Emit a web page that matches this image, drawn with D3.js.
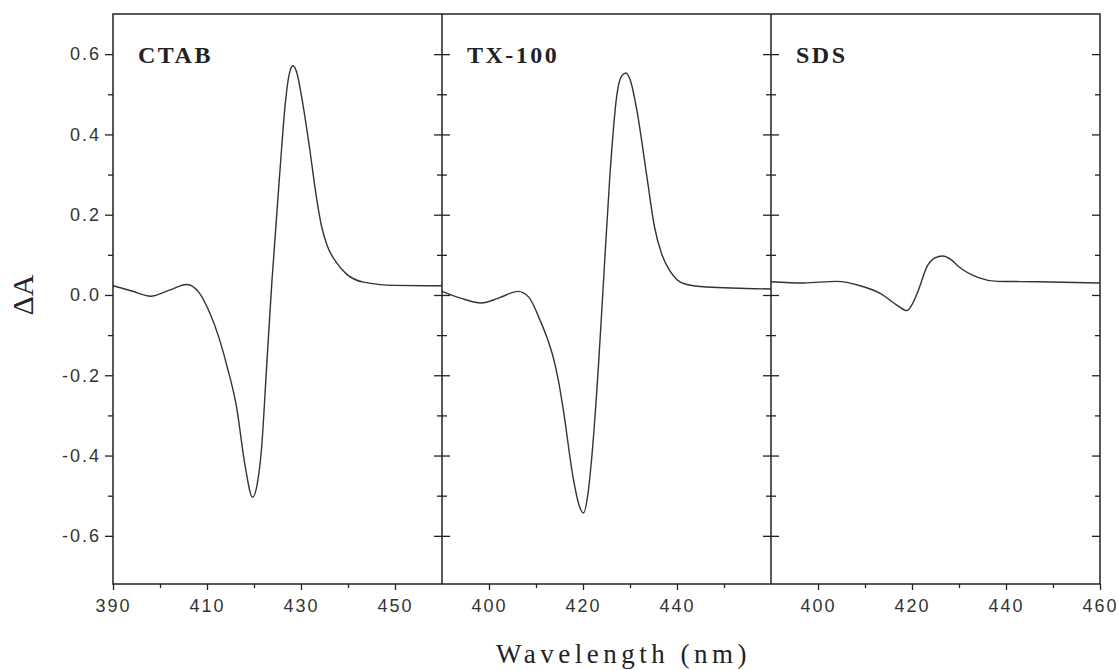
<!DOCTYPE html>
<html lang="en">
<head>
    <meta charset="UTF-8">
    <title>Difference spectra in micelles</title>
    <script src="https://d3js.org/d3.v7.min.js"></script>
    <style>
        body { margin: 0; background: #fff; }
        .tick text { font-family: "Liberation Sans", Arial, sans-serif; font-size: 18px; fill: #333; letter-spacing: 2px; }
        .tick line { stroke: #222; stroke-width: 1.3; }
        .frame { stroke: #222; stroke-width: 1.5; fill: none; }
        .spectrum { stroke: #333; stroke-width: 1.4; fill: none; }
    </style>
</head>
<body>
<div id="chart"></div>
<script>
    // values (wavelength nm, delta absorbance)
    const ctabNm = [390, 394, 398, 402, 405.7, 408.5, 410.6, 412.5, 414.2, 416.3, 418.1, 419.7, 420.7, 421.6, 422.7, 423.8, 425.5, 426.6, 427.5, 428.3, 429.2, 430.1, 431.9, 433.2, 434.3, 435.5, 437.6, 439.7, 443.3, 450, 460];
    const ctabDA = [0.023, 0.010, -0.003, 0.012, 0.026, 0.003, -0.045, -0.105, -0.175, -0.28, -0.425, -0.504, -0.47, -0.383, -0.176, 0.032, 0.306, 0.47, 0.55, 0.571, 0.55, 0.496, 0.36, 0.25, 0.175, 0.125, 0.080, 0.052, 0.032, 0.024, 0.023];

    const txNm = [390, 394, 398.4, 402, 406.2, 408.5, 410.9, 412.3, 413.7, 414.8, 415.8, 417.9, 419.2, 420.1, 421, 421.8, 423.3, 424.3, 425.7, 427.2, 428.2, 429.1, 430.2, 431.4, 433.6, 435.2, 436.8, 438.5, 440, 442.1, 446.3, 460];
    const txDA = [0.009, -0.008, -0.020, -0.008, 0.009, -0.006, -0.064, -0.105, -0.157, -0.215, -0.285, -0.455, -0.525, -0.543, -0.50, -0.413, -0.174, 0.021, 0.294, 0.498, 0.545, 0.553, 0.53, 0.464, 0.294, 0.17, 0.10, 0.06, 0.038, 0.026, 0.020, 0.015];

    const sdsNm = [390, 397, 404, 409, 413.4, 417, 418.9, 420.1, 421.2, 423.3, 424.8, 426.5, 428.3, 429.7, 434, 438.2, 446.7, 460];
    const sdsDA = [0.033, 0.030, 0.034, 0.023, 0.003, -0.027, -0.039, -0.022, 0.007, 0.073, 0.092, 0.097, 0.088, 0.073, 0.044, 0.034, 0.033, 0.030];

    const panelNames = ["CTAB", "TX-100", "SDS"];
    const panelNm = [ctabNm, txNm, sdsNm];
    const panelDA = [ctabDA, txDA, sdsDA];
    const xMajor = [[390, 410, 430, 450], [400, 420, 440], [400, 420, 440, 460]];
    const xMinor = [[400, 420, 440], [410, 430, 450], [410, 430, 450]];
    const yMajor = [-0.6, -0.4, -0.2, 0.0, 0.2, 0.4, 0.6];
    const yMinor = [-0.5, -0.3, -0.1, 0.1, 0.3, 0.5];

    const width = 1118, height = 670;
    const plotLeft = 113, plotRight = 1100, plotTop = 14, plotBottom = 584;
    const panelW = (plotRight - plotLeft) / 3;

    const svg = d3.select("#chart").append("svg")
        .attr("width", width)
        .attr("height", height);

    const y = d3.scaleLinear().domain([-0.72, 0.7]).range([plotBottom, plotTop]);

    function yTicks(g, axisFn, values, size, labels) {
        g.call(axisFn(y).tickValues(values).tickSize(size).tickPadding(4)
            .tickFormat(labels ? (d => d.toFixed(1)) : ""))
         .call(s => s.select(".domain").remove());
    }

    panelNames.forEach((name, i) => {
        const x0 = plotLeft + i * panelW;
        const x = d3.scaleLinear().domain([390, 460]).range([x0, x0 + panelW]);

        // bottom axis, major and minor ticks
        svg.append("g").attr("transform", `translate(0,${plotBottom})`)
            .call(d3.axisBottom(x).tickValues(xMajor[i]).tickSize(6).tickPadding(9).tickFormat(d3.format("d")))
            .call(g => g.select(".domain").remove());
        svg.append("g").attr("transform", `translate(0,${plotBottom})`)
            .call(d3.axisBottom(x).tickValues(xMinor[i]).tickSize(4).tickFormat(""))
            .call(g => g.select(".domain").remove());

        const line = d3.line()
            .x((d, k) => x(panelNm[i][k]))
            .y(d => y(d))
            .curve(d3.curveMonotoneX);

        svg.append("path")
            .attr("class", "spectrum")
            .attr("d", line(panelDA[i]));

        svg.append("text")
            .attr("x", x0 + 25)
            .attr("y", 63)
            .attr("font-family", "Liberation Serif, Times New Roman, serif")
            .attr("font-weight", "bold")
            .attr("font-size", 24)
            .attr("letter-spacing", 2.5)
            .attr("fill", "#222")
            .text(name);
    });

    // left axis with labels
    yTicks(svg.append("g").attr("transform", `translate(${plotLeft},0)`), d3.axisLeft, yMajor, 8, true);
    yTicks(svg.append("g").attr("transform", `translate(${plotLeft},0)`), d3.axisLeft, yMinor, 5, false);

    // divider axes: ticks on both sides
    [plotLeft + panelW, plotLeft + 2 * panelW].forEach(dx => {
        [d3.axisLeft, d3.axisRight].forEach(fn => {
            yTicks(svg.append("g").attr("transform", `translate(${dx},0)`), fn, yMajor, 8, false);
            yTicks(svg.append("g").attr("transform", `translate(${dx},0)`), fn, yMinor, 5, false);
        });
    });

    // right edge, ticks inward
    yTicks(svg.append("g").attr("transform", `translate(${plotRight},0)`), d3.axisLeft, yMajor, 8, false);
    yTicks(svg.append("g").attr("transform", `translate(${plotRight},0)`), d3.axisLeft, yMinor, 5, false);

    // frame and dividers
    svg.append("rect").attr("class", "frame")
        .attr("x", plotLeft).attr("y", plotTop)
        .attr("width", plotRight - plotLeft).attr("height", plotBottom - plotTop);
    [1, 2].forEach(k => {
        svg.append("line").attr("class", "frame")
            .attr("x1", plotLeft + k * panelW).attr("x2", plotLeft + k * panelW)
            .attr("y1", plotTop).attr("y2", plotBottom);
    });

    // axis titles
    svg.append("text")
        .attr("x", (plotLeft + plotRight) / 2 + 17)
        .attr("y", 663)
        .attr("text-anchor", "middle")
        .attr("font-family", "Liberation Serif, Times New Roman, serif")
        .attr("font-size", 27)
        .attr("letter-spacing", 4.5)
        .attr("fill", "#222")
        .text("Wavelength (nm)");

    svg.append("text")
        .attr("transform", `translate(33,${y(0)}) rotate(-90)`)
        .attr("text-anchor", "middle")
        .attr("font-family", "Liberation Serif, Times New Roman, serif")
        .attr("font-size", 30)
        .attr("fill", "#222")
        .text("ΔA");
</script>
</body>
</html>
